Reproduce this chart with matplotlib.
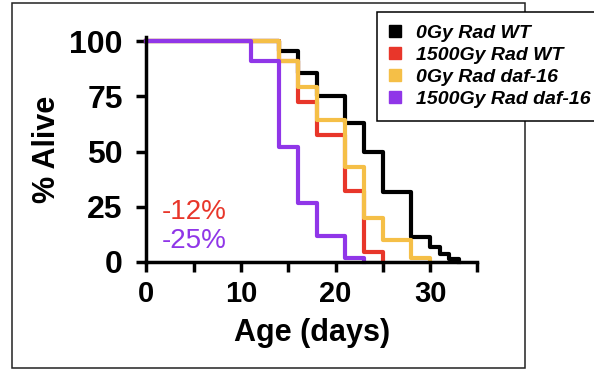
import matplotlib
matplotlib.use("Agg")
from matplotlib import pyplot as plt
from matplotlib.lines import Line2D
from matplotlib.patches import Rectangle

plt.rcParams['font.family'] = ['Liberation Sans', 'DejaVu Sans']

# survival curves (step, post), % alive vs age in days
wt_0gy_days = [0, 14, 16, 18, 21, 23, 25, 28, 30, 31, 32, 33]
wt_0gy_alive = [100, 95.4, 85.7, 75, 63, 50, 31.8, 11.4, 6.8, 3.8, 1.5, 0]

wt_1500gy_days = [0, 14, 16, 18, 21, 23, 25]
wt_1500gy_alive = [100, 91, 72.6, 57.5, 32, 4.5, 0]

daf_0gy_days = [0, 14, 16, 18, 21, 23, 25, 28, 30]
daf_0gy_alive = [100, 91, 79, 64.4, 43, 20, 10, 1.7, 0]

daf_1500gy_days = [0, 11, 14, 16, 18, 21, 23]
daf_1500gy_alive = [100, 90.8, 52, 26.6, 11.7, 1.7, 0]

labels = ['0Gy Rad WT', '1500Gy Rad WT', '0Gy Rad daf-16', '1500Gy Rad daf-16']
colors = ['#000000', '#E8362A', '#F5BF47', '#9036E8']

x_ticks = [0, 5, 10, 15, 20, 25, 30, 35]
x_tick_labels = ['0', '', '10', '', '20', '', '30', '']
y_ticks = [0, 25, 50, 75, 100]

fig = plt.figure(figsize=(5.94, 3.70), dpi=100)
ax = fig.add_axes([0.2466, 0.2919, 0.5572, 0.6092])

series = [(wt_0gy_days, wt_0gy_alive), (wt_1500gy_days, wt_1500gy_alive),
          (daf_0gy_days, daf_0gy_alive), (daf_1500gy_days, daf_1500gy_alive)]
for (d, a), c in zip(series, colors):
    ax.step(d, a, where='post', color=c, lw=3.0, clip_on=False)

ax.set_xlim(0, 35)
ax.set_ylim(0, 102)
for s in ['top', 'right']:
    ax.spines[s].set_visible(False)
for s in ['left', 'bottom']:
    ax.spines[s].set_linewidth(2.5)
    ax.spines[s].set_zorder(5)

ax.set_xticks(x_ticks)
ax.set_xticklabels(x_tick_labels)
ax.set_yticks(y_ticks)
ax.tick_params(width=2.5, length=7)
ax.tick_params(axis='x', pad=6, labelsize=21)
ax.tick_params(axis='y', pad=10, labelsize=23)
for t in ax.get_xticklabels() + ax.get_yticklabels():
    t.set_fontweight('bold')

ax.set_xlabel('Age (days)', fontsize=22, fontweight='bold', labelpad=7)
ax.set_ylabel('% Alive', fontsize=22, fontweight='bold', labelpad=5)

ax.text(1.6, 22.8, '-12%', color=colors[1], fontsize=20, va='center')
ax.text(1.6, 9.6, '-25%', color=colors[3], fontsize=20, va='center')

# outer frame
fig.patches.append(Rectangle((12 / 594, 2 / 370), 513 / 594, 365 / 370,
                             transform=fig.transFigure, fill=False,
                             edgecolor='#222222', lw=1.1, zorder=1))

handles = [Line2D([], [], marker='s', linestyle='none', color=c, markersize=8.5)
           for c in colors]
leg = fig.legend(handles, labels, loc='upper left',
                 bbox_to_anchor=(377 / 594, 1 - 12 / 370),
                 prop={'size': 14, 'style': 'italic', 'weight': 'bold'},
                 frameon=True, fancybox=False, borderaxespad=0, borderpad=0.65,
                 handlelength=0.5, handletextpad=0.85, labelspacing=0.22)
leg.get_frame().set_edgecolor('black')
leg.get_frame().set_linewidth(1.1)
leg.get_frame().set_alpha(1)

fig.savefig('out.png', dpi=100)
